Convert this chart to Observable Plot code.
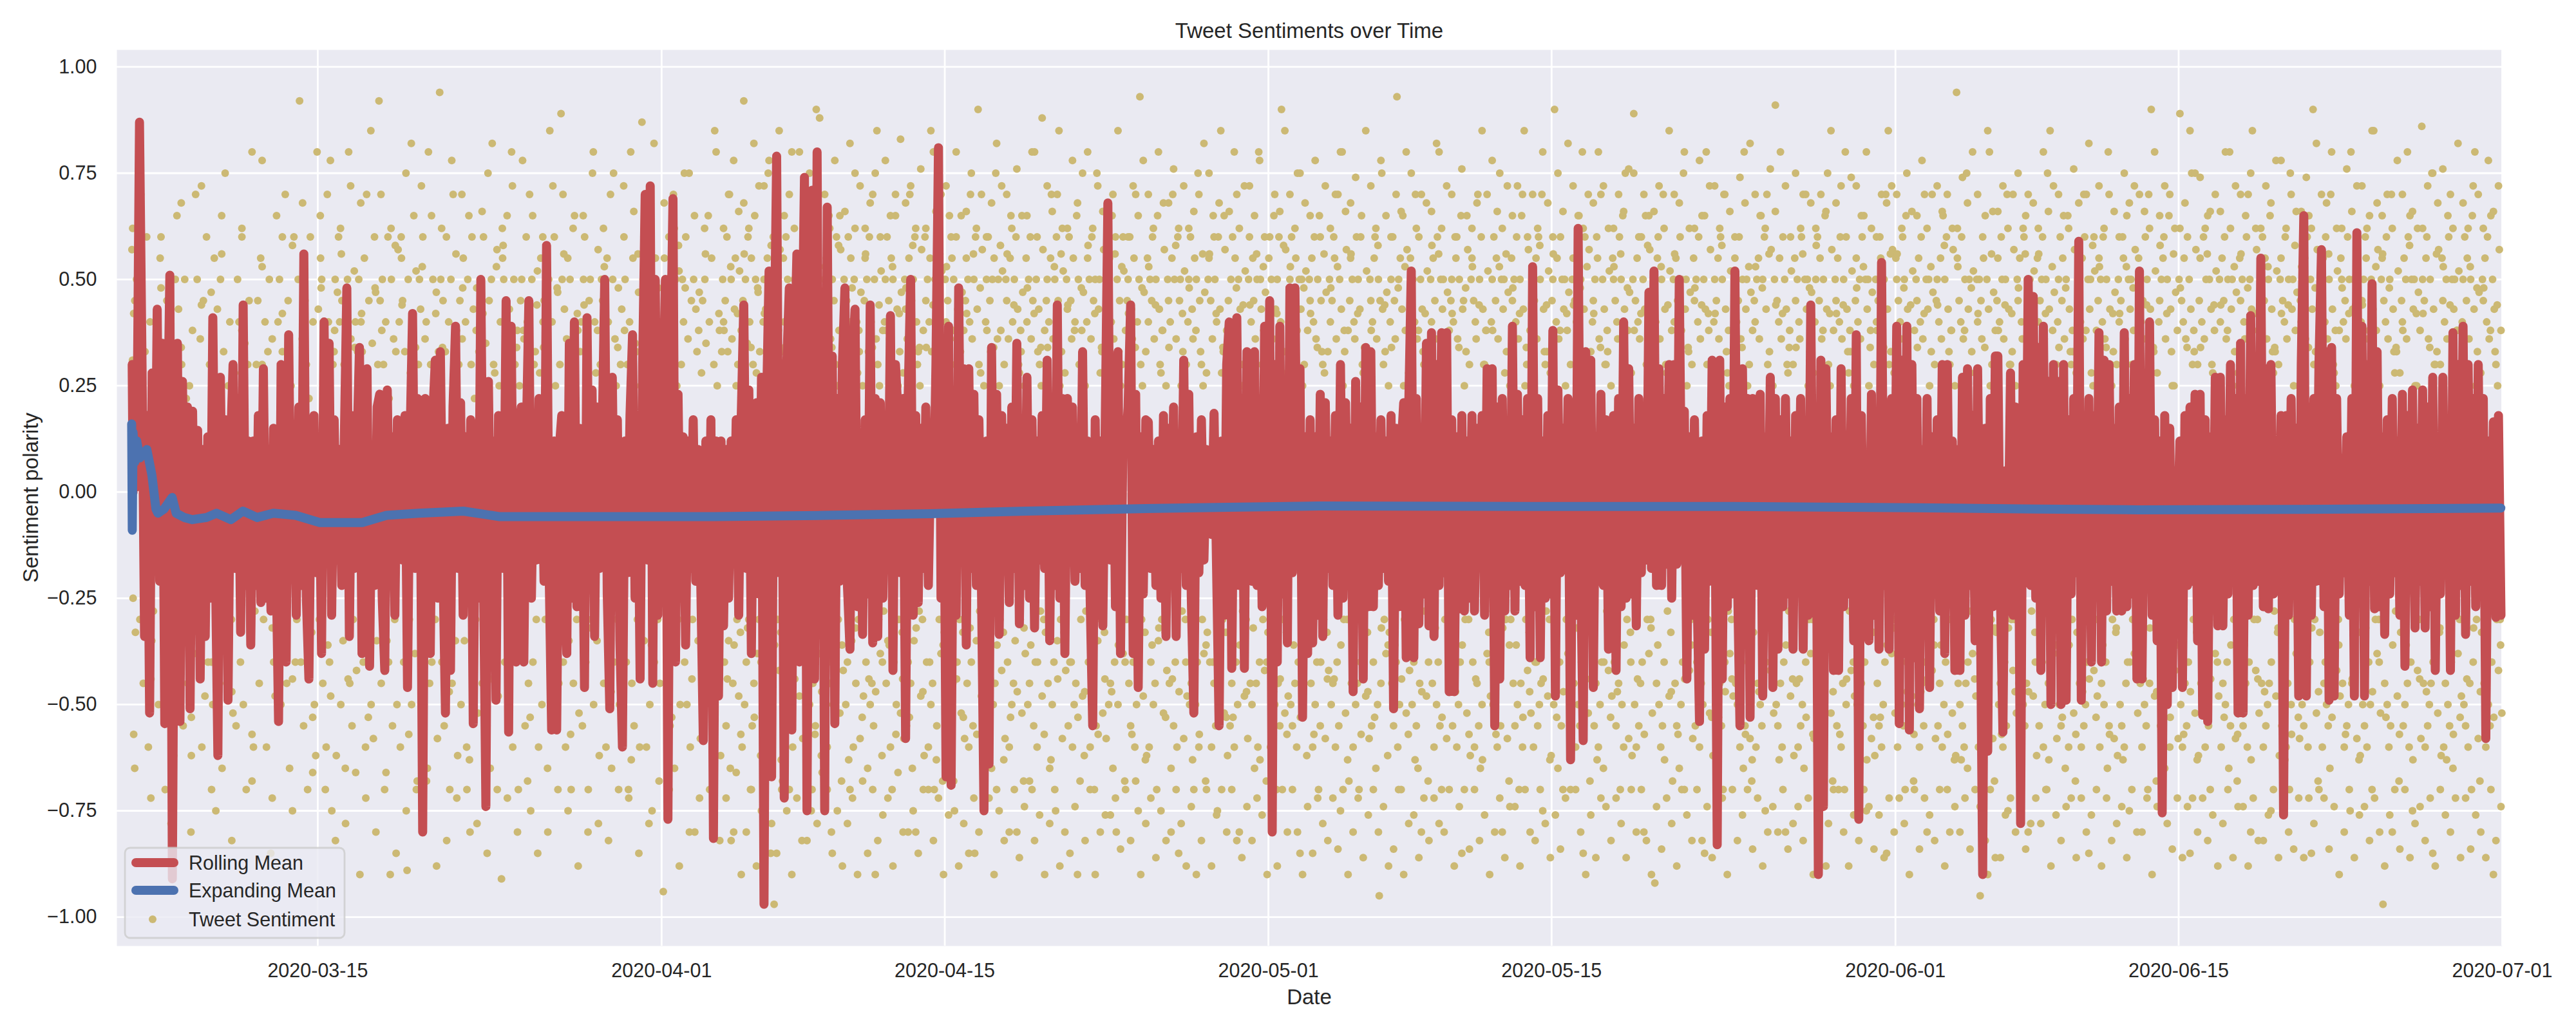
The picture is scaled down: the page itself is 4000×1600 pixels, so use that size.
<!DOCTYPE html>
<html><head><meta charset="utf-8">
<script src="https://cdn.jsdelivr.net/npm/d3@7"></script>
<script src="https://cdn.jsdelivr.net/npm/@observablehq/plot@0.6"></script>
<style>body{margin:0;background:#fff}</style>
</head><body><div id="chart"></div>
<script>
// ---- data ----
const baseDate = "2020-03-05T00:00Z";          // day 0 of the per-day arrays
const xDomain = ["2020-03-05T01:40Z", "2020-07-01T00:00Z"];
const yDomain = [-1.068, 1.04];
const firstDayFrom = 0.8;                       // data begins late on 2020-03-05
const xTicks = ["2020-03-15", "2020-04-01", "2020-04-15", "2020-05-01", "2020-05-15", "2020-06-01", "2020-06-15", "2020-07-01"];
const yTicks = [-1, -0.75, -0.5, -0.25, 0, 0.25, 0.5, 0.75, 1];
const legendLabels = ["Rolling Mean", "Expanding Mean", "Tweet Sentiment"];

// expanding mean: day offset from baseDate, value
const expandingDays = [0.8, 0.83, 0.87, 0.95, 1.05, 1.2, 1.55, 1.8, 2.0, 2.1, 2.4, 2.8, 3.0, 3.4, 3.8, 4.5, 5.0, 5.7, 6.3, 7.0, 7.8, 8.9, 10.1, 12.2, 13.4, 15, 17.2, 19, 23, 29.6, 35, 40.3, 45, 49.8, 55, 59.5, 70, 80, 89, 95, 100, 108, 117.93];
const expandingValues = [0.16, -0.09, 0.14, 0.07, 0.12, 0.08, 0.1, 0.04, -0.04, -0.05, -0.04, -0.013, -0.05, -0.06, -0.065, -0.06, -0.05, -0.065, -0.045, -0.06, -0.05, -0.055, -0.072, -0.072, -0.055, -0.05, -0.045, -0.058, -0.058, -0.058, -0.055, -0.051, -0.045, -0.04, -0.036, -0.033, -0.034, -0.034, -0.037, -0.04, -0.042, -0.041, -0.038];

// rolling mean: values in each calendar day, in time order
const rollingByDay = [
[.3,0,.29,.01],
[.12,.87,.3,-.34,.18,-.52,.28,-.18],
[.43,-.21,.35,-.545,.1,.51,-.91,.15],
[.35,-.54,.26,-.22,.2,-.51,.19,-.27],
[.145,-.44,.1,-.34,.13,-.25,.41,-.16],
[-.62,.27,-.24,.17,-.49,.1,.3,-.18],
[.22,-.33,.44,-.22,.12,-.36,.12,-.22],
[.18,-.26,.29,-.25,.1,-.28,.15,-.15],
[-.54,.3,-.16,-.4,.37,-.18,.1,-.29],
[.2,-.22,.56,-.25,-.44,.1,.18,-.19],
[.13,-.38,.4,-.15,.35,-.29,.17,-.16],
[.1,-.22,.12,.48,-.34,.18,-.18,.1],
[.34,-.38,.15,.29,-.41,.1,-.22,.2],
[.23,-.25,-.42,.24,-.15,.13,-.29,.17],
[.1,-.16,.18,-.46,.12,.42,-.18,.22],
[.1,-.8,.22,-.22,-.38,.18,.31,-.25],
[.33,-.16,-.52,.15,-.42,.2,.39,-.18],
[.21,-.29,.13,-.22,.17,-.545,.1,-.25],
[.5,-.16,-.74,.26,-.22,.12,-.49,.18],
[.1,-.18,.45,-.565,.39,-.22,-.4,.15],
[.2,-.4,.13,.45,-.25,.1,-.16,.22],
[.17,-.21,.58,-.18,-.56,.12,-.56,.1],
[.18,-.22,-.38,.35,-.25,.4,-.27,.15],
[.1,-.46,.41,-.16,.24,-.34,.2,-.18],
[.13,.5,-.24,-.51,.27,-.22,.17,-.35],
[-.6,.12,-.19,.18,.37,-.25,.15,-.44],
[.3,.7,-.16,.72,-.45,.5,-.29,.3],
[.2,.5,-.77,.3,.69,-.4,.23,-.22],
[.13,-.36,.12,-.18,.17,-.21,.1,-.22],
[-.585,.12,-.27,.17,-.815,.12,-.48,.12],
[-.315,.1,-.25,.12,-.16,.17,-.29,.18],
[.44,-.18,.24,-.38,.15,.21,-.24,.27],
[-.97,.2,.52,-.67,.3,.79,-.19,.27],
[-.72,.3,.48,-.56,.3,.56,-.4,.3],
[.74,-.75,.3,.71,-.44,.8,-.29,.4],
[-.75,.67,-.22,.32,-.545,.22,-.21,.3],
[.48,-.22,-.37,.3,.43,-.27,.13,-.335],
[.17,-.24,.44,-.355,.22,-.34,.21,-.25],
[.12,-.16,.415,-.42,.3,.185,-.19,.22],
[-.58,.22,.5,-.29,.18,-.26,.15,-.18],
[.2,-.22,.1,-.05,.3,.81,-.25,.24],
[-.67,.39,-.69,.13,-.29,.48,-.16,.29],
[-.36,.29,-.18,.23,-.22,.17,-.22,-.75],
[.12,-.64,.34,-.25,.23,-.335,.18,-.16],
[.15,-.26,.2,-.18,.35,-.31,.13,-.22],
[.27,-.25,.17,-.32,.12,-.16,.18,-.18],
[.31,-.35,.15,-.22,.44,-.25,.22,-.38],
[.22,-.16,.2,-.21,.13,-.18,.33,-.22],
[.12,-.25,-.55,.17,-.29,.12,-.315,.18],
[.68,-.16,.28,-.27,.33,-.38,.15,.1],
[.2,.44,-.38,.23,-.46,.13,-.24,.17],
[.165,-.18,.1,-.22,.12,-.25,.18,-.34],
[.15,-.16,.2,-.34,.1,-.18,.31,-.22],
[.23,-.25,-.52,.13,-.19,.17,-.16,.1],
[0,-.1,.185,-.18,-.55,.12,-.29,.3],
[.4,-.415,.18,.41,-.22,.22,-.415,.33],
[.15,-.21,.33,-.22,.2,-.27,.39,-.25],
[.45,-.8,.3,-.4,.39,-.24,.22,-.355],
[.48,-.19,.48,-.16,.29,-.53,.13,-.38],
[.17,-.355,.13,-.29,.23,-.34,.21,-.18],
[.12,-.22,.18,-.29,.3,-.25,.21,-.16],
[.15,-.47,.26,-.275,.2,-.44,.34,-.27],
[.33,-.27,.13,-.22,.17,-.18,.12,-.21],
[.18,-.51,.15,-.27,.1,.21,-.39,.2],
[.52,-.39,.22,-.31,.13,-.24,.35,-.315],
[.375,-.34,.3,-.22,.375,-.19,.375,-.47],
[.17,-.47,.13,-.275,.18,-.28,.12,-.25],
[.18,-.28,.15,-.16,.18,-.29,.29,-.18],
[.29,-.55,.2,-.44,.22,-.28,.13,-.22],
[.39,-.28,.23,-.21,.17,-.22,.22,-.39],
[.53,-.27,.22,-.39,.12,-.25,.18,-.24],
[.38,-.48,.24,-.19,.15,-.16,.22,-.63],
[.2,-.29,.62,-.18,-.585,.33,-.22,.31],
[-.46,.13,-.21,.23,-.22,.17,-.37,.12],
[.18,-.42,.22,-.27,.4,-.25,.29,-.24],
[.15,-.315,.22,-.19,.2,-.16,.47,-.18],
[.52,-.22,.29,-.22,.22,-.17,.3,-.25],
[.3,-.17,.5,-.1,.19,-.44,.13,-.29],
[.17,-.22,-.54,.12,-.37,.18,-.21,.31],
[.15,-.83,.31,-.44,.2,-.27,.22,-.24],
[.52,-.19,-.55,.29,-.29,.22,-.53,.22],
[.185,-.22,.23,-.48,.13,-.21,.27,-.46],
[.22,-.37,.17,-.27,.22,-.24,.12,-.37],
[.18,-.19,.22,-.37,.15,-.29,.44,-.22],
[.2,-.9,.31,-.74,.29,-.21,.13,-.42],
[.17,-.42,.29,-.27,.12,-.24,.22,-.35],
[.37,-.77,.18,-.19,.08,-.35,.23,-.29],
[.15,-.37,.54,-.22,.2,-.37,.22,-.21],
[.39,-.545,.31,-.38,.39,-.56,.3,-.39],
[.22,-.51,.1,-.27,.22,-.46,.13,-.24],
[.17,-.28,.3,-.38,.3,-.19,.12,-.42],
[.1,-.42,.27,-.29,.29,-.22,.18,-.35],
[.29,-.21,-.9,.15,-.61,.22,-.27,.32],
[.32,-.24,-.565,.05,-.19,.28,-.29,.2],
[.13,-.78,.3,-.18,.5,-.22,.46,-.25],
[.34,-.42,.39,-.21,.26,-.5,.3,-.27],
[.26,-.5,.3,-.49,.17,-.24,.22,-.19],
[.59,-.49,.12,-.29,.22,-.4,.18,-.22],
[.375,-.4,.31,-.28,.3,-.21,.15,-.28],
[.2,-.28,.375,-.27,.22,-.24,.3,-.44],
[.52,-.44,.13,-.19,.4,-.29,.17,-.35],
[.12,-.755,.18,-.5,.15,-.46,.05,-.1],
[.12,-.46,.18,-.22,.2,-.21,.23,-.35],
[.23,-.525,.17,-.54,.13,-.27,.27,-.315],
[.27,-.315,.17,-.24,.3,-.19,.22,-.52],
[.35,-.52,.22,-.29,.415,-.22,.3,-.21],
[.55,-.27,.29,-.275,.3,-.24,.12,-.19],
[.18,-.76,.18,-.29,.22,-.22,.15,-.48],
[.3,.65,-.48,.2,-.29,.22,-.21,.3],
[.57,-.27,.33,-.49,.34,-.48,.22,-.24],
[.08,-.19,.13,-.29,.22,-.48,.61,-.22],
[.39,-.48,.3,-.21,.49,-.275,.33,-.27],
[.13,-.335,.17,-.24,.22,-.19,.12,-.29],
[.23,-.41,.18,-.22,.24,-.32,.15,-.21],
[.24,-.32,.2,-.27,.27,-.42,.13,-.24],
[.27,-.19,.17,-.42,.375,-.29,.3,-.22],
[.39,-.335,.3,-.21,.22,-.27,.3,-.24],
[.22,-.58,.12,-.19,.165,-.295,.18,-.29]
];

// individual tweet polarities seen in each calendar day (main body)
const tweetsByDay = [
[.57,.31,-.25,-.57,.22,.45,-.33],
[.5,.36,-.3,.2,-.45,.33,.6,-.6,.4,-.35,-.28,.25],
[.4,-.5,.55,.28,.3,-.7,.45,-.4,-.42,.35,-.62,.5],
[.65,.43,-.33,.3,-.55,.5,.22,-.45,.25,-.8,.38,-.38,.7],
[.5,-.3,.36,-.6,.45,-.48,.6,-.4,.3,.47,-.5,.55,-.75],
[.43,-.35,.5,-.65,.33,.75,-.45,.25,.4,-.3,-.52,.28,-.55],
[.5,.4,-.4,.6,-.5,.35,-.7,.3,.45,-.33,.8,-.6,-.28,.3],
[.45,-.45,.55,.3,-.3,.4,-.6,.33,.5,-.85,.36,-.4,-.48,.65],
[.4,.5,-.5,.33,-.35,.7,-.45,.45,-.65,.25,.58,.6,-.4,-.3],
[.5,.92,-.4,.36,-.55,.45,.3,-.7,.22,.6,-.33,.4,-.5,-.62,.8],
[.43,-.3,.55,.5,-.45,.25,.35,-.6,.7,.4,-.4,-.48,-.75,.3,.33,.5,-.62,.47],
[.6,.4,-.5,.45,-.35,.3,-.65,.28,.5,.8,-.45,.36,-.55,-.3,.52,.4,-.42,.33],
[.5,-.9,.4,.33,-.4,.55,-.6,.7,.25,.45,-.3,-.5,.35,-.58,.6,.47,-.35,.3],
[.92,.45,-.45,.5,.3,-.7,.4,-.35,.6,.22,-.9,.5,-.55,.36,-.3,.33,-.5,.57],
[.4,-.6,.55,.45,-.4,.33,.75,-.89,.5,-.3,.28,-.5,.4,.65,-.38,.52,-.68,.3],
[.5,.43,-.35,.6,-.5,.36,.4,-.65,.8,-.45,.3,-.4,.5,.25,-.3,.47,-.58,.33],
[.94,.5,-.4,.45,-.55,.33,.6,-.3,.4,-.7,.5,-.45,.7,.28,-.35,.38,-.62,.3],
[.45,-.5,.36,.55,-.35,.4,-.6,.5,.65,-.8,.3,-.4,.43,.22,-.3,.48,-.52,.33],
[.5,.4,-.45,.6,-.3,.35,-.55,.75,.45,-.65,.5,-.4,.3,.28,-.35,.57,-.48,.25],
[.4,-.91,.55,.5,-.4,.33,.65,-.5,.43,-.35,.8,-.6,.5,.3,-.3,.38,-.7,.25],
[.45,.5,-.35,.36,-.55,.6,.4,-.45,.7,-.75,.5,-.4,.3,.33,-.3,.52,-.6,.28],
[.55,-.5,.4,.45,-.3,.33,-.65,.5,.85,-.4,.4,-.55,.6,.25,-.35,.47,-.45,.3],
[.89,.5,-.4,.43,-.6,.36,.55,-.35,.5,-.7,.3,-.45,.65,.22,-.3,.38,-.52,.33],
[.4,-.55,.5,.6,-.4,.35,-.8,.45,.5,-.3,.75,-.5,.4,.28,-.35,.57,-.62,.3],
[.5,.45,-.45,.33,-.6,.55,.4,-.35,.7,-.65,.5,-.4,.36,.25,-.3,.48,-.5,.3],
[.43,-.5,.6,.5,-.4,.3,-.7,.4,.8,-.45,.55,-.55,.35,.33,-.3,.47,-.6,.25],
[.87,.5,-.35,.45,-.6,.4,.65,-.5,.36,-.75,.5,-.4,.55,.28,-.3,.38,-.45,.3],
[.4,-.94,.55,.5,-.45,.33,.6,-.55,.45,-.35,.7,-.65,.5,.25,-.3,.52,-.5,.3],
[.5,.4,-.4,.6,-.5,.36,.75,-.6,.45,-.3,.5,-.8,.43,.33,-.35,.47,-.58,.28],
[.45,-.55,.5,.35,-.4,.65,.4,-.7,.55,-.45,.3,-.5,.8,.25,-.3,.38,-.62,.33],
[.5,.4,-.4,.45,-.55,.6,.33,-.35,.7,-.65,.5,.36,-.45,-.8,.43,.55,.25,-.3,.3,-.48,.52,-.33,.38,-.6],
[.45,.92,-.5,.5,-.4,.35,.6,-.3,.4,-.7,.55,-.55,.3,-.45,.65,.5,.28,-.38,.47,-.3,.33,-.62,.25,-.52],
[.4,.5,-.6,.43,-.35,.55,.75,-.5,.36,-.85,.45,-.4,.6,-.97,.5,.3,.25,-.3,.38,-.42,.57,-.33,.33,-.68],
[.55,.4,-.45,.6,-.55,.5,.33,-.7,.45,-.4,.8,-.6,.36,.5,-.35,.43,.3,-.28,.25,-.48,.52,-.3,.38,-.58],
[.5,.45,-.4,.35,-.65,.6,.4,-.5,.7,-.75,.55,-.45,.3,.5,-.55,.9,.28,-.3,.33,-.38,.47,-.62,.25,-.33],
[.43,.5,-.35,.55,-.6,.4,.65,-.45,.36,-.8,.5,-.5,.45,-.4,.3,.6,.25,-.3,.38,-.52,.57,-.68,.33,-.42],
[.5,.36,-.5,.45,-.4,.6,.4,-.7,.55,-.35,.3,-.6,.5,.75,-.45,.4,.28,-.3,.33,-.58,.47,-.33,.25,-.48],
[.45,.55,-.4,.5,-.65,.33,.6,-.5,.4,-.45,.7,-.55,.5,-.9,.36,.85,.3,-.3,.25,-.38,.52,-.62,.38,-.28],
[.4,.5,-.45,.6,-.35,.45,.36,-.6,.55,-.7,.5,-.4,.3,.65,-.5,.43,.25,-.3,.33,-.52,.47,-.33,.28,-.58],
[.5,.43,-.55,.36,-.4,.55,.7,-.45,.45,-.65,.5,-.35,.6,-.8,.4,.3,.33,-.28,.25,-.48,.57,-.3,.38,-.62],
[.6,.45,-.4,.5,-.6,.4,.55,-.5,.33,-.45,.8,-.7,.5,.36,-.55,.45,.28,-.3,.3,-.38,.52,-.68,.25,-.33],
[.5,.4,-.5,.45,-.35,.65,.36,-.6,.55,-.45,.5,-.75,.3,.6,-.4,.43,.25,-.3,.33,-.52,.47,-.33,.38,-.58],
[.45,.55,-.45,.5,-.6,.4,.7,-.4,.36,-.55,.5,-.85,.6,-.35,.43,.9,.3,-.28,.28,-.48,.57,-.3,.25,-.62],
[.4,.5,-.55,.6,-.4,.45,.33,-.65,.5,-.5,.55,-.45,.75,-.7,.36,.5,.25,-.3,.38,-.42,.52,-.33,.3,-.58],
[.5,.45,-.4,.36,-.6,.55,.65,-.5,.4,-.45,.5,-.35,.6,-.8,.43,.3,.28,-.3,.33,-.52,.47,-.68,.25,-.38],
[.55,.4,-.5,.5,-.45,.6,.36,-.7,.45,-.55,.8,-.4,.5,-.6,.33,.43,.3,-.28,.25,-.48,.57,-.3,.38,-.33],
[.45,.5,-.45,.4,-.65,.55,.7,-.5,.36,-.4,.5,-.75,.6,-.35,.45,.85,.25,-.3,.33,-.58,.52,-.33,.28,-.42],
[.5,.43,-.55,.6,-.4,.45,.36,-.6,.55,-.5,.4,-.45,.65,-.9,.5,.3,.3,-.3,.38,-.48,.47,-.62,.25,-.28],
[.4,.55,-.4,.5,-.6,.36,.6,-.45,.45,-.7,.5,-.55,.75,-.35,.43,.5,.28,-.3,.33,-.52,.57,-.33,.25,-.58],
[.5,.45,-.5,.55,-.45,.4,.65,-.65,.36,-.4,.6,-.8,.5,-.5,.33,.45,.25,-.28,.3,-.38,.52,-.68,.38,-.3],
[.45,.5,-.45,.6,-.55,.43,.36,-.4,.55,-.6,.7,-.5,.4,-.75,.5,.93,.3,-.3,.25,-.48,.47,-.33,.33,-.62],
[.55,.4,-.6,.5,-.4,.45,.6,-.5,.36,-.45,.5,-.7,.65,-.35,.43,.3,.28,-.3,.38,-.52,.57,-.33,.25,-.42],
[.5,.45,-.45,.4,-.65,.55,.7,-.55,.5,-.4,.36,-.6,.6,-.85,.45,.5,.25,-.28,.33,-.58,.52,-.3,.3,-.48],
[.4,.5,-.5,.6,-.45,.43,.36,-.7,.55,-.5,.5,-.4,.75,-.6,.45,.33,.3,-.3,.25,-.38,.47,-.68,.28,-.33],
[.5,.55,-.4,.45,-.6,.36,.65,-.45,.5,-.55,.4,-.75,.6,-.5,.43,.85,.28,-.3,.33,-.52,.57,-.33,.38,-.62],
[.45,.4,-.55,.5,-.45,.6,.36,-.6,.55,-.4,.7,-.5,.5,-.8,.43,.3,.25,-.28,.3,-.48,.52,-.3,.33,-.58],
[.5,.6,-.45,.4,-.5,.55,.45,-.65,.36,-.45,.5,-.6,.8,-.4,.5,.43,.3,-.3,.38,-.42,.47,-.68,.25,-.33],
[.55,.45,-.6,.5,-.4,.36,.65,-.5,.43,-.7,.5,-.45,.6,-.55,.4,.9,.28,-.3,.33,-.52,.57,-.33,.25,-.48],
[.4,.5,-.5,.6,-.55,.45,.36,-.45,.55,-.6,.75,-.4,.5,-.85,.43,.5,.25,-.28,.3,-.38,.52,-.62,.38,-.3],
[.5,.45,-.45,.55,-.6,.4,.6,-.5,.36,-.4,.5,-.7,.65,-.55,.45,.33,.3,-.3,.28,-.58,.47,-.33,.33,-.42],
[.5,.4,-.5,.45,-.45,.6,.55,-.6,.36,-.4,.7,-.55,.5,-.75,.43,.8,.25,-.3,.33,-.52,.57,-.3,.38,-.68],
[.45,.55,-.45,.5,-.6,.4,.36,-.5,.6,-.45,.5,-.7,.43,-.4,.65,.3,.28,-.28,.25,-.48,.52,-.33,.3,-.58],
[.5,.45,-.55,.4,-.4,.55,.6,-.65,.36,-.5,.5,-.95,.45,-.45,.75,.43,.3,-.3,.33,-.38,.47,-.62,.25,-.33],
[.4,.5,-.45,.6,-.55,.45,.36,-.4,.93,-.6,.5,-.5,.55,-.7,.43,.65,.25,-.3,.38,-.52,.57,-.3,.28,-.42],
[.55,.45,-.5,.5,-.4,.4,.7,-.55,.36,-.65,.6,-.45,.5,-.8,.43,.33,.3,-.28,.33,-.48,.52,-.68,.25,-.3],
[.5,.4,-.45,.55,-.6,.45,.36,-.5,.6,-.4,.8,-.55,.5,-.7,.43,.5,.28,-.3,.25,-.58,.47,-.33,.38,-.42],
[.45,.5,-.55,.4,-.45,.6,.55,-.6,.36,-.5,.5,-.4,.65,-.85,.43,.45,.25,-.3,.33,-.52,.57,-.3,.3,-.62],
[.5,.55,-.4,.45,-.6,.4,.36,-.45,.7,-.55,.5,-.65,.6,-.5,.43,.3,.3,-.28,.38,-.38,.52,-.33,.25,-.48],
[.4,.5,-.5,.6,-.45,.45,.55,-.6,.36,-.4,.75,-.55,.5,-.8,.43,.5,.28,-.3,.33,-.58,.47,-.68,.25,-.3],
[.55,.45,-.45,.5,-.55,.4,.6,-.5,.36,-.7,.5,-.45,.65,-.6,.43,.85,.25,-.3,.3,-.42,.57,-.33,.38,-.52],
[.5,.4,-.6,.45,-.4,.55,.36,-.55,.6,-.5,.5,-.45,.7,-.75,.43,.33,.3,-.28,.33,-.48,.52,-.3,.28,-.62],
[.45,.5,-.5,.9,-.45,.4,.55,-.65,.36,-.4,.6,-.55,.5,-.7,.43,.5,.25,-.3,.38,-.38,.47,-.33,.3,-.58],
[.5,.55,-.45,.45,-.6,.4,.36,-.5,.65,-.55,.5,-.4,.8,-.85,.43,.6,.28,-.3,.25,-.52,.57,-.68,.33,-.3],
[.4,.45,-.55,.5,-.45,.6,.55,-.6,.36,-.5,.7,-.4,.5,-.65,.43,.3,.3,-.28,.33,-.42,.52,-.3,.25,-.48],
[.55,.5,-.4,.45,-.55,.4,.36,-.45,.6,-.7,.5,-.5,.65,-.6,.43,.75,.25,-.3,.38,-.58,.47,-.33,.28,-.62],
[.5,.89,-.5,.45,-.6,.55,.4,-.55,.36,-.45,.6,-.4,.5,-.8,.43,.65,.3,-.3,.33,-.38,.57,-.3,.25,-.52],
[.45,.5,-.92,.4,-.45,.55,.6,-.5,.36,-.6,.5,-.55,.7,-.4,.43,.3,.28,-.28,.25,-.48,.52,-.33,.38,-.68],
[.5,.4,-.45,.55,-.55,.45,.36,-.65,.6,-.5,.5,-.4,.75,-.7,.43,.5,.25,-.3,.33,-.42,.47,-.3,.3,-.58],
[.55,.45,-.55,.5,-.4,.4,.6,-.6,.36,-.45,.65,-.5,.5,-.85,.43,.8,.3,-.3,.38,-.52,.57,-.33,.28,-.62],
[.4,.5,-.5,.45,-.6,.55,.36,-.45,.6,-.55,.5,-.7,.7,-.4,.43,.33,.28,-.28,.25,-.38,.52,-.3,.33,-.48],
[.5,.55,-.45,.4,-.5,.45,.6,-.6,.36,-.4,.5,-.65,.8,-.55,.43,.5,.25,-.3,.3,-.58,.47,-.68,.38,-.33],
[.45,.4,-.6,.5,-.45,.55,.36,-.5,.65,-.55,.5,-.4,.6,-.75,.43,.7,.3,-.3,.33,-.42,.57,-.3,.25,-.52],
[.5,.91,-.5,.45,-.55,.4,.55,-.45,.36,-.6,.6,-.4,.5,-.8,.43,.3,.28,-.28,.38,-.48,.52,-.33,.3,-.62],
[.55,.45,-.45,.5,-.6,.4,.36,-.55,.6,-.5,.7,-.65,.5,-.4,.43,.5,.25,-.3,.33,-.38,.47,-.3,.28,-.58],
[.4,.5,-.9,.6,-.45,.45,.55,-.5,.36,-.6,.5,-.55,.65,-.88,.43,.75,.3,-.3,.25,-.52,.57,-.68,.38,-.33],
[.5,.45,-.55,.55,-.4,.4,.6,-.6,.36,-.45,.5,-.7,.8,-.5,.43,.33,.28,-.28,.33,-.42,.52,-.3,.25,-.48],
[.45,.55,-.5,.4,-.6,.5,.36,-.45,.6,-.55,.65,-.4,.5,-.75,.43,.5,.25,-.3,.38,-.58,.47,-.33,.3,-.62],
[.5,.4,-.45,.45,-.55,.6,.55,-.6,.36,-.5,.5,-.4,.7,-.85,.43,.85,.3,-.3,.33,-.38,.57,-.3,.28,-.52],
[.55,.5,-.6,.45,-.45,.4,.36,-.5,.6,-.55,.5,-.7,.65,-.4,.43,.3,.28,-.28,.25,-.48,.52,-.68,.38,-.33],
[.5,.45,-.5,.55,-.6,.4,.6,-.45,.36,-.55,.7,-.4,.5,-.8,.43,.5,.25,-.3,.33,-.42,.47,-.3,.3,-.58],
[.45,.5,-.55,.4,-.45,.55,.36,-.6,.65,-.5,.5,-.4,.6,-.7,.43,.33,.3,-.3,.38,-.52,.57,-.33,.25,-.62],
[.94,.55,-.45,.45,-.5,.4,.6,-.55,.36,-.6,.5,-.45,.75,-.65,.43,.5,.28,-.28,.33,-.38,.52,-.3,.28,-.48],
[.5,.4,-.6,.5,-.95,.45,.36,-.5,.55,-.55,.65,-.4,.5,-.9,.43,.8,.25,-.3,.3,-.58,.47,-.68,.38,-.33],
[.45,.55,-.5,.4,-.45,.6,.5,-.6,.36,-.4,.5,-.55,.7,-.75,.43,.3,.3,-.3,.33,-.42,.57,-.3,.25,-.52],
[.5,.45,-.45,.55,-.6,.4,.36,-.5,.6,-.55,.65,-.45,.5,-.8,.43,.5,.28,-.28,.25,-.48,.52,-.33,.33,-.62],
[.55,.4,-.55,.45,-.4,.5,.6,-.6,.36,-.5,.5,-.7,.75,-.45,.43,.85,.25,-.3,.38,-.38,.47,-.3,.3,-.58],
[.4,.5,-.5,.6,-.55,.45,.55,-.45,.36,-.65,.5,-.4,.65,-.6,.43,.33,.3,-.3,.33,-.52,.57,-.68,.28,-.33],
[.5,.45,-.45,.4,-.6,.55,.36,-.55,.6,-.5,.7,-.4,.5,-.85,.43,.5,.28,-.28,.25,-.42,.52,-.3,.38,-.48],
[.45,.55,-.6,.5,-.45,.4,.6,-.5,.36,-.4,.5,-.65,.8,-.55,.43,.3,.25,-.3,.33,-.58,.47,-.33,.3,-.62],
[.5,.4,-.5,.45,-.55,.6,.55,-.6,.36,-.45,.65,-.4,.5,-.75,.43,.5,.3,-.3,.38,-.38,.57,-.3,.25,-.52],
[.55,.5,-.45,.4,-.6,.45,.36,-.5,.6,-.55,.5,-.7,.7,-.45,.43,.9,.28,-.28,.33,-.48,.52,-.68,.28,-.33],
[.4,.45,-.55,.5,-.4,.55,.6,-.65,.36,-.5,.5,-.45,.65,-.6,.43,.33,.25,-.3,.25,-.42,.47,-.3,.38,-.58],
[.5,.89,-.5,.45,-.6,.4,.55,-.45,.36,-.55,.6,-.4,.5,-.85,.43,.75,.3,-.3,.33,-.52,.57,-.33,.3,-.62],
[.45,.55,-.45,.4,-.5,.6,.36,-.6,.5,-.45,.65,-.55,.5,-.7,.43,.3,.28,-.28,.38,-.38,.52,-.3,.25,-.48],
[.5,.4,-.6,.55,-.45,.45,.6,-.5,.36,-.4,.5,-.65,.8,-.55,.43,.5,.25,-.3,.33,-.58,.47,-.68,.28,-.33],
[.55,.45,-.5,.5,-.55,.4,.36,-.45,.6,-.6,.7,-.4,.5,-.8,.43,.85,.3,-.3,.25,-.42,.57,-.3,.38,-.52],
[.4,.5,-.45,.6,-.6,.45,.55,-.55,.36,-.5,.5,-.45,.65,-.75,.43,.33,.28,-.28,.33,-.48,.52,-.33,.3,-.62],
[.5,.55,-.55,.45,-.4,.4,.6,-.6,.36,-.45,.5,-.7,.75,-.5,.43,.5,.25,-.3,.38,-.38,.47,-.3,.25,-.58],
[.45,.4,-.5,.5,-.55,.55,.36,-.45,.6,-.6,.65,-.4,.5,-.85,.43,.9,.3,-.3,.33,-.52,.57,-.68,.28,-.33],
[.5,.45,-.6,.55,-.45,.4,.6,-.5,.36,-.55,.5,-.65,.7,-.4,.43,.3,.28,-.28,.25,-.42,.52,-.3,.38,-.48],
[.55,.5,-.45,.4,-.6,.45,.36,-.55,.6,-.5,.5,-.75,.8,-.45,.43,.5,.25,-.3,.33,-.58,.47,-.33,.3,-.62],
[.4,.45,-.5,.5,-.55,.6,.55,-.6,.36,-.4,.65,-.5,.5,-.7,.43,.85,.3,-.3,.38,-.38,.57,-.3,.25,-.52],
[.5,.55,-.97,.45,-.45,.4,.6,-.5,.36,-.6,.5,-.55,.7,-.8,.43,.33,.28,-.28,.33,-.48,.52,-.68,.28,-.33],
[.45,.4,-.55,.55,-.5,.5,.36,-.45,.6,-.6,.65,-.4,.5,-.75,.43,.5,.25,-.3,.25,-.42,.47,-.3,.38,-.58],
[.86,.5,-.45,.45,-.6,.55,.6,-.55,.36,-.5,.5,-.45,.75,-.85,.43,.3,.3,-.3,.33,-.52,.57,-.33,.3,-.62],
[.55,.45,-.6,.4,-.45,.5,.36,-.5,.6,-.55,.7,-.4,.5,-.65,.43,.5,.28,-.28,.38,-.38,.52,-.3,.25,-.48],
[.4,.5,-.5,.6,-.55,.45,.55,-.6,.36,-.45,.5,-.7,.65,-.4,.43,.8,.25,-.3,.33,-.58,.47,-.68,.28,-.33],
[.5,.45,-.45,.55,-.6,.4,.6,-.5,.36,-.55,.65,-.4,.5,-.9,.43,.33,.3,-.3,.25,-.42,.57,-.3,.38,-.52]
];

// more tweets in the mid ranges (0.3..0.6 and -0.3..-0.65) per calendar day
const tweetMidByDay = [
[.42],[.38,-.44],[.48,-.36],[.34,-.53],[.44,-.4],[.56,-.47],[.38,-.57],[.53,-.32],[.42,-.44],[.34,-.53],
[.48,-.36,.38],[.56,-.44,.34],[.42,-.53,.48],[.38,-.4,.58],[.44,-.57,.34],[.53,-.36,.42],[.34,-.47,.56],
[.48,-.63,.38],[.42,-.44,.53],[.58,-.36,.34],[.38,-.53,.44],[.34,-.4,.48],[.56,-.57,.42],[.44,-.32,.38],
[.53,-.47,.34],[.38,-.63,.56],[.42,-.36,.48],[.34,-.53,.58],[.48,-.44,.38],[.56,-.4,.42],
[.38,-.44,.53,-.36,.42,-.57],[.56,-.32,.34,-.53,.48,-.4],[.42,-.47,.58,-.36,.38,-.63],[.34,-.53,.44,-.44,.56,-.32],
[.48,-.36,.38,-.57,.42,-.47],[.53,-.4,.34,-.44,.58,-.36],[.42,-.63,.48,-.32,.38,-.53],[.56,-.44,.34,-.47,.44,-.4],
[.38,-.36,.53,-.57,.42,-.44],[.48,-.53,.58,-.32,.34,-.47],[.34,-.4,.44,-.63,.56,-.36],[.53,-.47,.38,-.44,.42,-.53],
[.42,-.32,.56,-.57,.48,-.4],[.38,-.44,.34,-.36,.58,-.63],[.56,-.53,.44,-.47,.38,-.32],[.48,-.36,.42,-.4,.34,-.57],
[.34,-.63,.53,-.44,.56,-.36],[.44,-.4,.38,-.53,.48,-.47],[.58,-.32,.42,-.57,.34,-.44],[.38,-.47,.56,-.36,.53,-.4],
[.42,-.57,.34,-.44,.48,-.63],[.53,-.36,.44,-.32,.38,-.53],[.34,-.44,.58,-.47,.42,-.4],[.48,-.63,.38,-.57,.56,-.36],
[.56,-.4,.42,-.44,.34,-.53],[.38,-.53,.48,-.36,.44,-.47],[.44,-.32,.56,-.63,.53,-.4],[.34,-.47,.42,-.44,.58,-.57],
[.53,-.36,.38,-.53,.48,-.32],[.42,-.57,.34,-.4,.56,-.44],[.48,-.44,.53,-.36,.38,-.63],[.56,-.4,.42,-.57,.34,-.47],
[.38,-.53,.58,-.32,.44,-.36],[.34,-.36,.48,-.44,.53,-.57],[.44,-.63,.38,-.47,.42,-.4],[.58,-.32,.56,-.53,.34,-.44],
[.42,-.47,.34,-.36,.48,-.57],[.53,-.44,.44,-.63,.38,-.4],[.38,-.57,.53,-.32,.56,-.36],[.48,-.36,.42,-.53,.34,-.47],
[.34,-.4,.58,-.44,.44,-.63],[.56,-.53,.38,-.47,.42,-.32],[.44,-.32,.48,-.57,.53,-.44],[.42,-.63,.34,-.4,.38,-.53],
[.53,-.47,.56,-.36,.48,-.4],[.38,-.44,.42,-.57,.58,-.32],[.34,-.36,.53,-.63,.44,-.47],[.56,-.57,.38,-.44,.34,-.36],
[.48,-.4,.44,-.32,.42,-.53],[.42,-.53,.58,-.47,.38,-.44],[.38,-.32,.34,-.57,.53,-.63],[.53,-.47,.48,-.4,.56,-.36],
[.44,-.63,.42,-.36,.34,-.44],[.34,-.44,.56,-.53,.48,-.57],[.58,-.36,.38,-.32,.42,-.47],[.42,-.57,.44,-.44,.38,-.4],
[.48,-.4,.53,-.63,.34,-.53],[.38,-.53,.34,-.36,.56,-.32],[.56,-.32,.48,-.47,.44,-.57],[.34,-.47,.42,-.44,.53,-.36],
[.44,-.36,.58,-.57,.38,-.63],[.53,-.63,.38,-.4,.48,-.44],[.42,-.44,.34,-.53,.56,-.32],[.38,-.57,.44,-.32,.42,-.47],
[.48,-.32,.56,-.47,.34,-.4],[.56,-.4,.42,-.63,.53,-.36],[.34,-.53,.48,-.36,.38,-.57],[.44,-.47,.38,-.44,.58,-.53],
[.53,-.36,.34,-.57,.42,-.32],[.42,-.63,.53,-.4,.48,-.44],[.38,-.44,.44,-.32,.34,-.47],[.58,-.4,.42,-.53,.56,-.36],
[.48,-.57,.34,-.47,.38,-.63],[.34,-.32,.56,-.44,.44,-.4],[.44,-.53,.38,-.36,.53,-.57],[.56,-.36,.48,-.63,.42,-.44],
[.38,-.47,.53,-.4,.34,-.32],[.42,-.63,.44,-.57,.58,-.53],[.53,-.44,.34,-.32,.48,-.47],[.34,-.4,.56,-.53,.38,-.36],
[.48,-.57,.42,-.44,.44,-.63],[.44,-.32,.38,-.47,.53,-.4],[.56,-.53,.48,-.36,.34,-.57],[.38,-.36,.58,-.63,.42,-.44],
[.42,-.47,.34,-.4,.56,-.32],[.53,-.63,.44,-.57,.38,-.53],[.34,-.44,.53,-.32,.48,-.47],[.48,-.4,.38,-.53,.44,-.36]
];

// tweets in the upper / lower tails (|polarity| > 0.6) seen in each calendar day
const tweetTailsByDay = [
[.62,-.65],[.7,-.72],[.6,-.78],[.68,-.62],[.72,-.7],[.65,-.82],[.62,-.68],[.78,-.72],[.6,-.75],[.68,-.66],
[.65,-.7,.78,-.82],[.62,-.78,.72,-.66],[.68,-.72,.85,-.8],[.7,-.66,.62,-.85],[.6,-.75,.82,-.7],
[.72,-.68,.65,-.88],[.62,-.82,.78,-.72],[.7,-.7,.6,-.78],[.66,-.85,.82,-.7],[.62,-.72,.72,-.8],
[.78,-.68,.65,-.85],[.6,-.8,.72,-.7],[.7,-.75,.62,-.88],[.65,-.7,.8,-.78],[.62,-.82,.75,-.7],
[.72,-.72,.66,-.85],[.6,-.78,.82,-.68],[.68,-.7,.62,-.88],[.75,-.8,.65,-.72],[.62,-.7,.85,-.82],
[.62,-.72,.7,-.82,.78,-.66,.66,-.9],[.68,-.8,.62,-.7,.82,-.88,.72,-.75],[.72,-.66,.78,-.78,.6,-.85,.85,-.7],
[.65,-.75,.7,-.9,.62,-.72,.8,-.82],[.6,-.82,.75,-.7,.68,-.78,.88,-.66],[.7,-.7,.62,-.85,.78,-.75,.65,-.88],
[.66,-.78,.82,-.72,.62,-.9,.72,-.68],[.62,-.85,.68,-.7,.75,-.82,.6,-.76],[.78,-.72,.65,-.88,.7,-.66,.83,-.8],
[.68,-.8,.72,-.75,.62,-.85,.76,-.7],[.62,-.7,.85,-.82,.66,-.72,.7,-.9],[.72,-.76,.6,-.68,.8,-.88,.65,-.78],
[.66,-.85,.75,-.72,.62,-.8,.7,-.66],[.6,-.72,.68,-.9,.82,-.75,.72,-.82],[.7,-.8,.62,-.7,.76,-.86,.65,-.74],
[.65,-.68,.8,-.82,.6,-.76,.88,-.9],[.72,-.78,.66,-.7,.7,-.88,.62,-.8],[.62,-.85,.78,-.74,.68,-.68,.75,-.82],
[.8,-.7,.62,-.9,.72,-.8,.66,-.76],[.66,-.76,.7,-.72,.85,-.84,.6,-.7],[.6,-.82,.72,-.68,.65,-.9,.78,-.78],
[.7,-.72,.62,-.86,.8,-.75,.68,-.82],[.68,-.8,.76,-.7,.62,-.78,.72,-.88],[.62,-.74,.66,-.9,.7,-.82,.82,-.7],
[.75,-.88,.6,-.76,.68,-.7,.65,-.8],[.66,-.7,.8,-.82,.62,-.86,.72,-.74],[.72,-.82,.65,-.72,.78,-.76,.6,-.9],
[.6,-.76,.7,-.88,.66,-.7,.85,-.8],[.7,-.7,.62,-.8,.75,-.9,.68,-.74],[.65,-.85,.78,-.72,.6,-.78,.72,-.82],
[.62,-.72,.7,-.84,.8,-.7,.66,-.9],[.68,-.8,.74,-.72,.6,-.86,.85,-.76],[.72,-.7,.62,-.8,.78,-.74,.65,-.88],
[.6,-.84,.7,-.7,.66,-.9,.8,-.78],[.75,-.76,.62,-.86,.7,-.72,.68,-.82],[.66,-.72,.82,-.78,.62,-.8,.72,-.7],
[.7,-.88,.6,-.74,.76,-.7,.65,-.84],[.62,-.7,.68,-.82,.85,-.76,.7,-.9],[.78,-.8,.66,-.72,.62,-.86,.72,-.74],
[.65,-.74,.72,-.88,.7,-.7,.6,-.8],[.7,-.82,.62,-.7,.8,-.78,.68,-.86],[.6,-.76,.75,-.84,.66,-.72,.82,-.7],
[.72,-.7,.65,-.8,.62,-.9,.7,-.76],[.68,-.86,.8,-.72,.72,-.74,.62,-.82],[.62,-.72,.7,-.78,.66,-.86,.76,-.7],
[.75,-.8,.6,-.7,.7,-.82,.65,-.9],[.66,-.74,.72,-.84,.62,-.72,.85,-.78],[.7,-.88,.68,-.7,.8,-.76,.62,-.82],
[.62,-.7,.78,-.82,.65,-.74,.72,-.86],[.72,-.78,.62,-.72,.7,-.9,.66,-.7],[.6,-.82,.74,-.76,.68,-.7,.82,-.84],
[.7,-.72,.65,-.88,.62,-.8,.76,-.74],[.66,-.8,.8,-.7,.72,-.84,.6,-.78],[.75,-.74,.62,-.82,.7,-.72,.68,-.9],
[.62,-.86,.7,-.74,.66,-.78,.85,-.7],[.68,-.7,.72,-.8,.6,-.88,.74,-.76],[.72,-.82,.65,-.7,.8,-.74,.62,-.84],
[.6,-.76,.7,-.86,.68,-.72,.72,-.8],[.7,-.72,.62,-.78,.75,-.9,.66,-.7],[.65,-.84,.78,-.72,.62,-.76,.7,-.82],
[.72,-.7,.66,-.88,.7,-.8,.62,-.74],[.62,-.8,.74,-.72,.68,-.84,.8,-.7],[.7,-.74,.6,-.82,.85,-.7,.66,-.86],
[.66,-.86,.72,-.76,.62,-.72,.7,-.8],[.75,-.7,.62,-.84,.7,-.78,.68,-.72],[.62,-.78,.8,-.7,.66,-.88,.72,-.76],
[.7,-.82,.65,-.74,.62,-.72,.76,-.86],[.68,-.72,.7,-.8,.82,-.76,.6,-.7],[.72,-.88,.62,-.72,.7,-.82,.66,-.78],
[.6,-.74,.75,-.86,.68,-.7,.72,-.8],[.7,-.8,.66,-.72,.62,-.9,.8,-.74],[.65,-.7,.72,-.78,.7,-.84,.62,-.72],
[.62,-.86,.68,-.74,.85,-.72,.75,-.8],[.74,-.72,.62,-.82,.66,-.76,.7,-.88],[.66,-.78,.8,-.7,.62,-.86,.72,-.74],
[.7,-.74,.65,-.88,.75,-.72,.62,-.82],[.62,-.82,.72,-.76,.68,-.7,.78,-.86],[.78,-.7,.62,-.8,.7,-.84,.66,-.72],
[.66,-.86,.74,-.72,.62,-.78,.82,-.7],[.7,-.72,.68,-.84,.8,-.74,.62,-.9],[.62,-.8,.76,-.7,.66,-.86,.72,-.76],
[.72,-.74,.62,-.82,.85,-.72,.68,-.8],[.65,-.88,.7,-.76,.62,-.7,.78,-.84],[.7,-.7,.8,-.86,.66,-.78,.62,-.74],
[.62,-.82,.72,-.72,.75,-.88,.68,-.7],[.76,-.76,.65,-.8,.62,-.72,.82,-.86],[.68,-.72,.62,-.84,.72,-.76,.7,-.8],
[.62,-.86,.78,-.7,.66,-.82,.72,-.74]
];

// ---- build tables ----
const DAY = 864e5;
const t0 = new Date(baseDate).getTime();
function spreadByDay(byDay) {
  const out = [];
  byDay.forEach((vals, d) => {
    const s = d === 0 ? firstDayFrom : 0;
    vals.forEach((v, i) => out.push({date: new Date(t0 + (d + s + (1 - s) * (i + 0.5) / vals.length) * DAY), value: v}));
  });
  return out;
}
const tweets = spreadByDay(tweetsByDay).concat(spreadByDay(tweetMidByDay), spreadByDay(tweetTailsByDay));
const rolling = spreadByDay(rollingByDay);
const expanding = expandingDays.map((d, i) => ({date: new Date(t0 + d * DAY), value: expandingValues[i]}));

const W = 4000, H = 1600, mT = 77, mR = 115, mB = 131, mL = 181;
const ink = "#262626";
const font = "'Liberation Sans', Arial, sans-serif";
const colors = {rolling: "#c44e52", expanding: "#4c72b0", tweets: "#ccb974"};
const xTickDates = xTicks.map(d => new Date(d + "T00:00Z"));
const dotR = 6;

const chart = Plot.plot({
  width: W, height: H,
  marginTop: mT, marginRight: mR, marginBottom: mB, marginLeft: mL,
  style: {fontFamily: font, fontSize: "30.5px", color: ink, background: "#fff"},
  x: {type: "utc", domain: xDomain.map(d => new Date(d)), label: null},
  y: {domain: yDomain, label: null},
  marks: [
    Plot.frame({fill: "#eaeaf2", stroke: null}),
    Plot.gridX(xTickDates, {stroke: "#fff", strokeOpacity: 1, strokeWidth: 2.8}),
    Plot.gridY(yTicks, {stroke: "#fff", strokeOpacity: 1, strokeWidth: 2.8}),
    Plot.dot(tweets, {x: "date", y: "value", r: dotR, fill: colors.tweets, stroke: null}),
    Plot.line(rolling, {x: "date", y: "value", stroke: colors.rolling, strokeWidth: 14, strokeLinejoin: "round", strokeLinecap: "round"}),
    Plot.line(expanding, {x: "date", y: "value", stroke: colors.expanding, strokeWidth: 14, strokeLinejoin: "round", strokeLinecap: "round"}),
    Plot.axisX(xTickDates, {tickSize: 0, tickPadding: 27, tickFormat: d3.utcFormat("%Y-%m-%d"), label: null, fill: ink}),
    Plot.axisY(yTicks, {tickSize: 0, tickPadding: 31, tickFormat: d3.format(".2f"), label: null, fill: ink})
  ]
});

const svg = d3.select(chart);
const cx = (mL + (W - mR)) / 2, cy = (mT + (H - mB)) / 2;
const addText = (sel, x, y, txt, size, anchor, transform) => {
  const t = sel.append("text").attr("x", x).attr("y", y).attr("dy", "0.35em")
    .attr("text-anchor", anchor).attr("font-size", size).attr("fill", ink)
    .attr("font-family", font).text(txt);
  if (transform) t.attr("transform", transform);
  return t;
};
addText(svg, cx, 47, "Tweet Sentiments over Time", 33, "middle");
addText(svg, cx, 1548, "Date", 33, "middle");
addText(svg, 0, 0, "Sentiment polarity", 33, "middle", `translate(47,${cy}) rotate(-90)`);

// legend (lower left, inside the axes)
const lg = svg.append("g").attr("transform", `translate(${mL + 13},${H - mB - 152})`);
lg.append("rect").attr("width", 341).attr("height", 140).attr("rx", 8)
  .attr("fill", "#eaeaf2").attr("fill-opacity", 0.8).attr("stroke", "#cccccc").attr("stroke-opacity", 0.8).attr("stroke-width", 2.8);
const rows = [23, 66, 111];
[colors.rolling, colors.expanding].forEach((c, i) => {
  lg.append("line").attr("x1", 17).attr("x2", 76).attr("y1", rows[i]).attr("y2", rows[i])
    .attr("stroke", c).attr("stroke-width", 14).attr("stroke-linecap", "round");
});
lg.append("circle").attr("cx", 43).attr("cy", rows[2]).attr("r", dotR).attr("fill", colors.tweets);
legendLabels.forEach((l, i) => addText(lg, 99, rows[i], l, 30.5, "start"));

document.getElementById("chart").appendChild(chart);
</script>
</body></html>
